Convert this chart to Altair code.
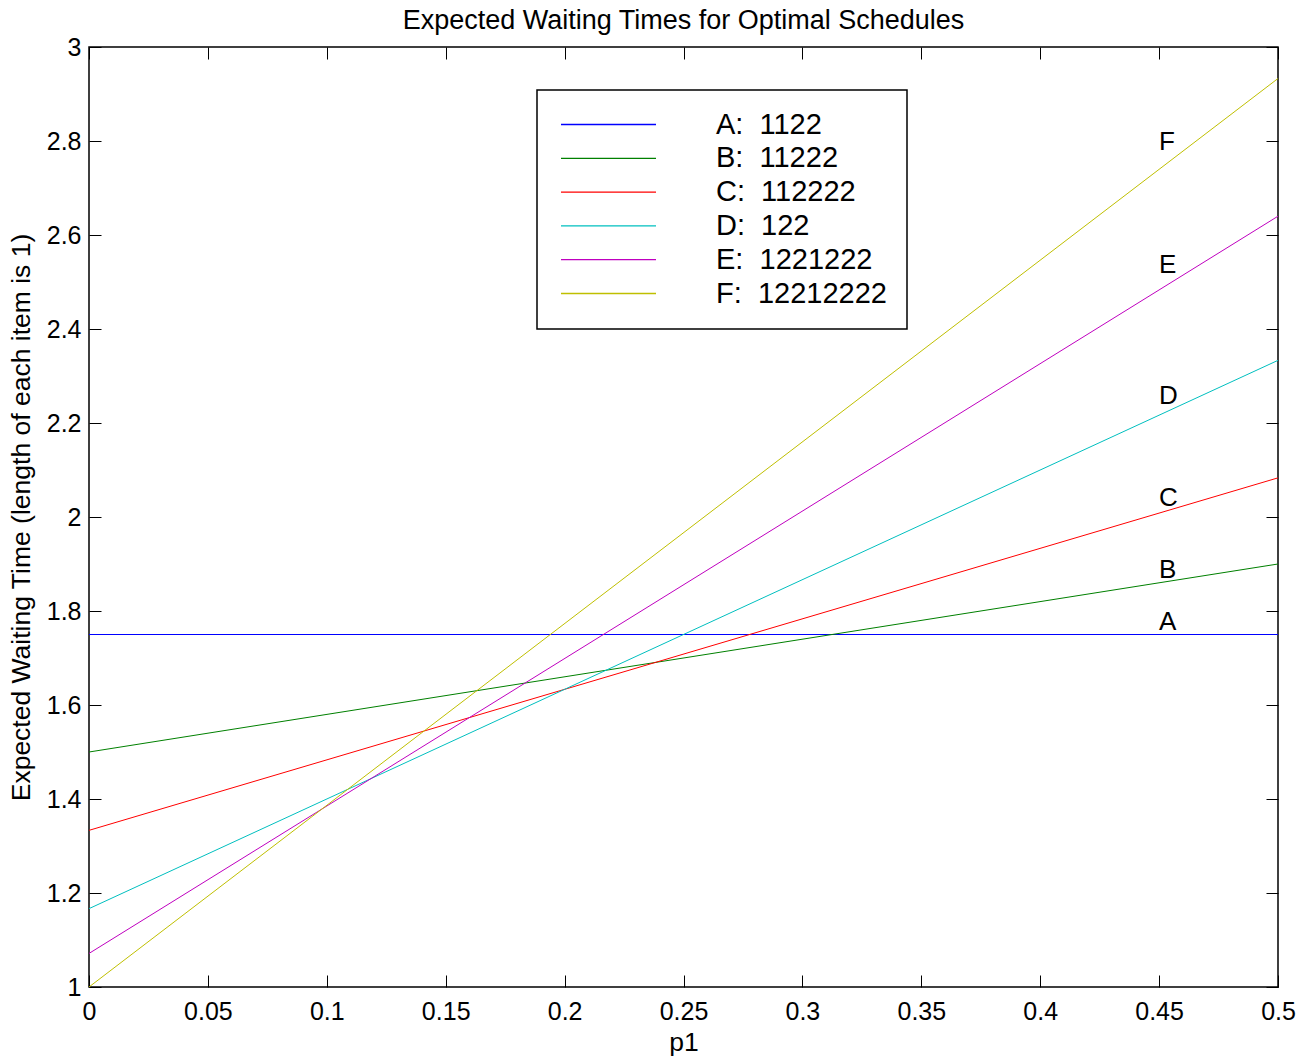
import altair as alt
import pandas as pd

# ---- data ----
p_points = [0.0, 0.5]
series_labels = [
    "A:\u00a0\u00a01122",
    "B:\u00a0\u00a011222",
    "C:\u00a0\u00a0112222",
    "D:\u00a0\u00a0122",
    "E:\u00a0\u00a01221222",
    "F:\u00a0\u00a012212222",
]
A_vals = [1.75, 1.75]
B_vals = [1.5, 1.9]
C_vals = [1.3333, 2.0833]
D_vals = [1.1667, 2.3333]
E_vals = [1.0714, 2.64]
F_vals = [1.0, 2.933]
series_colors = ["#0000FF", "#008000", "#FF0000", "#00BFBF", "#BF00BF", "#BFBF00"]

label_letters = ["A", "B", "C", "D", "E", "F"]
label_x = [0.45, 0.45, 0.45, 0.45, 0.45, 0.45]
label_y = [1.777, 1.887, 2.04, 2.257, 2.536, 2.797]

x_ticks = [0, 0.05, 0.1, 0.15, 0.2, 0.25, 0.3, 0.35, 0.4, 0.45, 0.5]
y_ticks = [1, 1.2, 1.4, 1.6, 1.8, 2, 2.2, 2.4, 2.6, 2.8, 3]

all_vals = [A_vals, B_vals, C_vals, D_vals, E_vals, F_vals]
rows = []
for name, vals in zip(series_labels, all_vals):
    for p, v in zip(p_points, vals):
        rows.append({"series": name, "p": p, "w": v})
lines_df = pd.DataFrame(rows)
labels_df = pd.DataFrame({"letter": label_letters, "x": label_x, "y": label_y})

FONT = "Liberation Sans"
x_scale = alt.Scale(domain=[0, 0.5], nice=False, zero=False)
y_scale = alt.Scale(domain=[1, 3], nice=False, zero=False)
inward = alt.ExprRef(expr="-12")

lines = alt.Chart(lines_df).mark_line(strokeWidth=1, clip=True).encode(
    x=alt.X("p:Q", scale=x_scale,
            axis=alt.Axis(orient="bottom", values=x_ticks, format="~g", title="p1",
                          tickSize=inward, labelPadding=24, titlePadding=5,
                          domain=False, grid=False, labelFlush=False)),
    y=alt.Y("w:Q", scale=y_scale,
            axis=alt.Axis(orient="left", values=y_ticks, format="~g",
                          title="Expected Waiting Time (length of each item is 1)",
                          tickSize=inward, labelPadding=20, titlePadding=11,
                          domain=False, grid=False, labelFlush=False)),
    color=alt.Color("series:N",
                    scale=alt.Scale(domain=series_labels, range=series_colors),
                    sort=series_labels,
                    legend=alt.Legend(title=None, orient="none", legendX=448, legendY=43,
                                      symbolType="M-4,0H4", symbolSize=564,
                                      symbolStrokeWidth=1.3, symbolOffset=37,
                                      labelOffset=93, labelFontSize=29, labelFont=FONT,
                                      labelColor="black", labelLimit=500,
                                      rowPadding=3.8, padding=20,
                                      strokeColor="black", fillColor="white")),
)

labels = alt.Chart(labels_df).mark_text(
    align="left", baseline="middle", fontSize=26, font=FONT, color="black"
).encode(
    x=alt.X("x:Q", scale=x_scale,
            axis=alt.Axis(orient="top", values=x_ticks, labels=False, title=None,
                          tickSize=inward, domain=False, grid=False)),
    y=alt.Y("y:Q", scale=y_scale,
            axis=alt.Axis(orient="right", values=y_ticks, labels=False, title=None,
                          tickSize=inward, domain=False, grid=False)),
    text="letter:N",
)

chart = alt.layer(lines, labels).resolve_axis(
    x="independent", y="independent"
).properties(
    width=1189, height=940,
    title=alt.TitleParams("Expected Waiting Times for Optimal Schedules",
                          fontSize=27, font=FONT, fontWeight="normal", color="black",
                          anchor="middle", baseline="bottom", offset=-27),
    autosize=alt.AutoSizeParams(type="none"),
    padding={"left": 81, "top": 39, "right": 28, "bottom": 80},
).configure_view(
    stroke="black", strokeWidth=1.5
).configure_axis(
    labelFont=FONT, labelFontSize=25, labelColor="black",
    titleFont=FONT, titleFontSize=26.5, titleFontWeight="normal", titleColor="black",
    tickColor="black", tickWidth=1,
).configure_legend(
    strokeWidth=1.5
)

chart.save("out.html", embed_options={"renderer": "svg", "actions": False})
